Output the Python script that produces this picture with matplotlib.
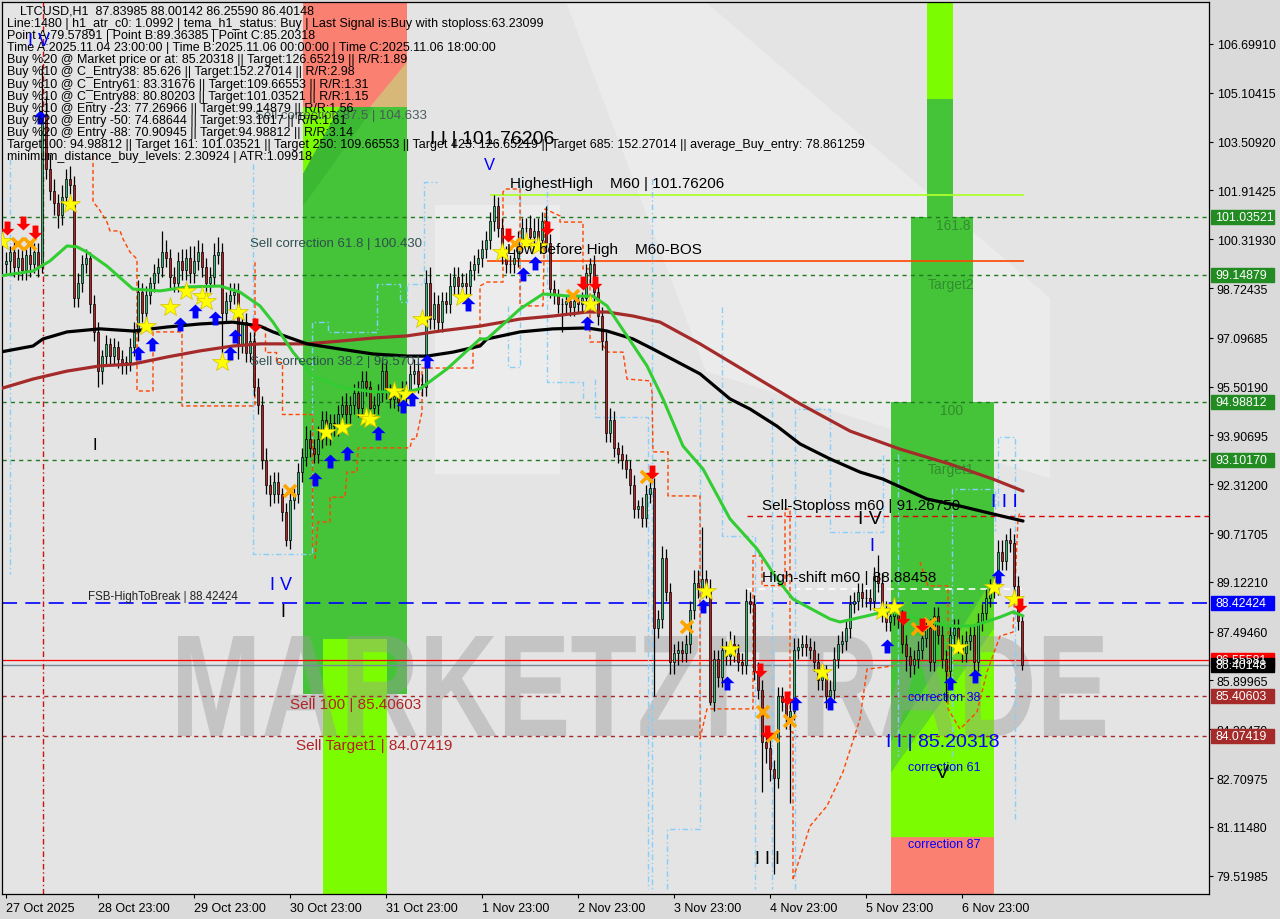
import numpy as np
import matplotlib
matplotlib.use('Agg')
import matplotlib.pyplot as plt
from matplotlib.patches import Rectangle, Polygon, PathPatch
from matplotlib.textpath import TextPath
from matplotlib.font_manager import FontProperties
from matplotlib.transforms import Affine2D
import matplotlib.transforms as mtransforms

plt.rcParams['font.family'] = ['Liberation Sans', 'DejaVu Sans']

W, H = 1280, 920

# ---------------- data ----------------
first_open = 99.5
closes = [
    99.6, 99.9, 99.4, 99.7, 99.3, 99.8, 99.5, 99.9, 99.4, 104.4,
    102.6, 101.9, 101.5, 101.1, 101.7, 102.3, 102.1, 98.4, 98.9, 99.5,
    99.7, 98.2, 97.3, 96.0, 96.5, 96.9, 96.5, 96.8, 96.4, 96.2,
    96.3, 96.8, 97.3, 98.6, 97.9, 98.5, 98.9, 99.2, 99.4, 99.9,
    99.7, 99.1, 98.9, 99.6, 99.3, 99.7, 99.2, 99.6, 99.9, 99.4,
    98.9, 99.1, 99.8, 99.9, 97.9, 98.3, 98.5, 98.6, 96.9, 97.6,
    96.6, 97.0, 95.5, 94.9, 93.1, 92.3, 92.0, 92.4, 92.0, 91.4,
    90.5, 91.8, 92.0, 92.7, 93.2, 93.8, 93.5, 93.3, 93.8, 94.4,
    93.9, 94.3, 94.2, 94.6, 94.9, 94.6, 94.9, 95.3, 94.8, 95.7,
    95.5, 94.8, 94.9, 95.3, 96.0, 95.4, 95.1, 95.2, 95.0, 95.4,
    95.3, 95.9, 96.0, 95.6, 95.5, 98.9, 97.7, 98.2, 97.6, 98.3,
    98.2, 98.8, 99.1, 98.8, 98.9, 98.8, 99.3, 99.5, 99.7, 100.0,
    100.3, 100.9, 101.4, 100.7, 99.8, 99.5, 99.5, 99.7, 100.3, 100.7,
    100.7, 100.4, 100.6, 100.3, 100.9, 100.2, 98.7, 98.5, 98.2, 98.2,
    98.3, 98.1, 98.3, 98.2, 98.4, 99.2, 99.5, 98.6, 97.8, 97.0,
    94.0, 94.4, 93.5, 93.3, 93.1, 92.8, 92.3, 91.5, 91.6, 91.2,
    92.0, 92.2, 87.6, 87.9, 89.9, 88.8, 86.5, 86.8, 86.9, 86.8,
    87.1, 88.2, 89.1, 88.9, 89.2, 88.9, 85.2, 86.6, 86.0, 86.9,
    86.7, 87.1, 86.8, 86.5, 86.4, 88.5, 88.4, 86.2, 85.6, 83.9,
    83.7, 83.0, 82.7, 85.4, 85.2, 84.7, 84.9, 86.9, 87.0, 87.1,
    87.0, 86.9, 86.5, 85.9, 86.1, 85.4, 85.6, 86.6, 87.1, 87.2,
    87.6, 88.4, 88.5, 88.8, 88.6, 88.6, 88.5, 89.3, 89.1, 88.1,
    87.8, 88.0, 88.1, 87.9, 87.1, 86.7, 86.4, 86.6, 86.9, 87.3,
    87.6, 86.5, 88.0, 87.4, 86.6, 86.2, 87.4, 87.6, 87.1, 86.8,
    87.2, 87.4, 86.5, 87.8, 88.1, 88.6, 88.9, 89.0, 90.1, 89.8,
    90.5, 90.4, 89.0, 87.84, 86.40148,
]
wick_up = [
    0.3, 0.2, 0.4, 0.3, 0.3, 0.2, 0.4, 0.3, 0.3, 1.6,
    0.6, 0.5, 0.4, 0.3, 0.4, 0.3, 0.4, 0.3, 0.3, 0.3,
    0.3, 0.2, 0.3, 0.3, 0.2, 0.3, 0.2, 0.3, 0.2, 0.3,
    0.2, 0.3, 0.3, 0.4, 0.3, 0.3, 0.2, 0.3, 0.3, 0.7,
    0.4, 0.3, 0.3, 0.3, 0.4, 0.3, 0.4, 0.5, 0.4, 0.3,
    0.3, 0.3, 0.4, 0.5, 0.3, 0.3, 0.4, 0.3, 0.3, 0.3,
    0.3, 0.3, 0.3, 0.3, 0.3, 0.4, 0.3, 0.3, 0.3, 0.2,
    0.3, 0.3, 0.2, 0.3, 0.3, 0.4, 0.3, 0.3, 0.4, 0.3,
    0.3, 0.3, 0.3, 0.3, 0.3, 0.4, 0.3, 0.3, 0.4, 0.3,
    0.3, 0.2, 0.3, 0.3, 0.4, 0.3, 0.2, 0.3, 0.2, 0.3,
    0.3, 0.3, 0.4, 0.3, 0.3, 0.4, 0.5, 0.4, 0.3, 0.3,
    0.3, 0.4, 0.3, 0.3, 0.3, 0.3, 0.3, 0.3, 0.3, 0.3,
    0.3, 0.3, 0.36, 0.3, 0.3, 0.3, 0.3, 0.3, 0.3, 0.3,
    0.3, 0.4, 0.4, 0.4, 0.3, 0.5, 0.3, 0.3, 0.2, 0.2,
    0.2, 0.2, 0.2, 0.2, 0.2, 0.3, 0.2, 0.3, 0.2, 0.3,
    0.3, 0.4, 0.3, 0.2, 0.3, 0.2, 0.3, 0.3, 0.2, 0.3,
    0.3, 0.4, 0.3, 0.3, 0.4, 0.3, 0.3, 0.3, 0.3, 0.3,
    0.3, 0.3, 0.4, 0.4, 1.7, 0.3, 0.3, 0.3, 0.3, 0.4,
    0.3, 0.4, 0.3, 0.3, 0.3, 0.4, 0.3, 0.3, 0.3, 0.3,
    0.3, 0.3, 0.3, 0.3, 0.3, 0.3, 0.4, 0.4, 0.3, 0.3,
    0.3, 0.3, 0.3, 0.3, 0.3, 0.3, 0.3, 0.4, 0.3, 0.3,
    0.3, 0.3, 0.3, 0.3, 0.3, 0.3, 0.3, 0.3, 0.7, 0.3,
    0.4, 0.3, 0.3, 0.3, 0.3, 0.3, 0.3, 0.3, 0.3, 0.3,
    0.3, 0.3, 0.3, 0.3, 0.3, 0.3, 0.3, 0.3, 0.3, 0.3,
    0.3, 0.3, 0.3, 0.3, 0.3, 0.3, 0.3, 0.3, 0.4, 0.4,
    0.2, 0.38, 0.3, 0.3, 0.16,
]
wick_dn = [
    0.3, 0.4, 0.3, 0.4, 0.3, 0.3, 0.4, 0.3, 0.3, 0.2,
    0.3, 0.3, 0.4, 0.4, 0.3, 0.3, 0.3, 0.3, 0.3, 0.3,
    0.3, 0.3, 0.3, 0.5, 0.4, 0.3, 0.3, 0.3, 0.3, 0.3,
    0.3, 0.3, 0.3, 0.3, 0.3, 0.3, 0.3, 0.3, 0.3, 0.3,
    0.3, 0.4, 0.3, 0.3, 0.3, 0.3, 0.3, 0.3, 0.3, 0.3,
    0.3, 0.3, 0.3, 0.3, 1.3, 0.3, 0.3, 0.3, 0.5, 0.3,
    0.3, 0.3, 0.3, 0.3, 0.3, 0.3, 0.4, 0.3, 0.3, 0.3,
    0.2, 0.3, 0.3, 0.3, 0.3, 0.3, 0.3, 0.3, 0.3, 0.3,
    0.3, 0.3, 0.3, 0.3, 0.3, 0.3, 0.3, 0.3, 0.3, 0.3,
    0.3, 0.3, 0.3, 0.3, 0.3, 0.3, 0.3, 0.3, 0.3, 0.3,
    0.3, 0.3, 0.3, 0.3, 0.3, 0.3, 0.3, 0.3, 0.3, 0.3,
    0.3, 0.3, 0.3, 0.3, 0.3, 0.3, 0.3, 0.3, 0.3, 0.3,
    0.3, 0.3, 0.3, 0.3, 0.3, 0.3, 0.3, 0.3, 0.3, 0.3,
    0.3, 0.3, 0.3, 0.3, 0.3, 0.3, 0.3, 0.3, 0.3, 0.9,
    0.3, 0.3, 0.3, 0.3, 0.3, 0.3, 0.3, 0.3, 0.3, 0.3,
    0.3, 0.3, 0.3, 0.3, 0.3, 0.3, 0.3, 0.3, 0.3, 0.3,
    0.3, 0.3, 2.2, 0.3, 0.3, 0.3, 0.4, 0.4, 0.4, 0.3,
    0.3, 0.3, 0.3, 0.3, 0.3, 0.3, 0.1, 0.3, 0.3, 0.3,
    0.3, 0.3, 0.3, 0.3, 0.3, 0.3, 0.3, 0.3, 0.3, 1.65,
    0.5, 0.4, 3.12, 0.3, 0.3, 0.4, 2.8, 0.3, 0.3, 0.3,
    0.3, 0.3, 0.3, 0.3, 0.3, 0.4, 0.3, 0.3, 0.3, 0.3,
    0.3, 0.3, 0.3, 0.3, 0.3, 0.3, 0.3, 0.3, 0.3, 0.3,
    0.3, 0.3, 0.3, 0.3, 0.3, 0.5, 0.4, 0.3, 0.3, 0.3,
    0.3, 0.3, 0.3, 0.3, 0.3, 1.0, 0.3, 0.3, 0.3, 0.3,
    0.3, 0.3, 0.3, 0.3, 0.3, 0.3, 0.3, 0.3, 0.3, 0.3,
    0.3, 0.3, 0.3, 0.3, 0.15,
]

# moving averages (bar, price knots)
ma_green_x = [-1.5, 6.75, 11, 15.25, 17.75, 20.25, 25.25, 31.75, 38.5, 45.25, 53.5, 58.5, 63.5, 66.75, 71.75,
              76.75, 83.5, 91.75, 100.25, 103.5, 110.25, 118.5, 120.25, 128.5, 134.25, 141, 146.75, 150.25,
              155.25, 160.25, 164.25, 169.25, 174.25, 181, 187.75, 192.75, 196.75, 206, 208.5, 215.25, 220.25,
              228.5, 235.25, 241.75, 248.5, 251.75, 254.25]
ma_green_y = [99.12, 99.28, 99.61, 100.10, 100.07, 99.90, 99.44, 98.69, 98.63, 98.76, 98.79, 98.59, 98.14, 97.61,
              96.63, 95.85, 95.49, 95.33, 95.33, 95.43, 96.08, 97.06, 97.06, 98.04, 98.53, 98.46, 98.46, 98.14,
              97.16, 96.18, 95.10, 93.56, 92.81, 91.18, 90.20, 89.22, 88.56, 87.91, 87.81, 88.01, 88.17, 87.91,
              87.68, 87.68, 87.97, 88.14, 88.01]
ma_black_x = [-1.5, 6.75, 9.25, 15.25, 23.5, 31.75, 40.25, 48.5, 56.75, 63.5, 66.75, 75.25, 83.5, 91.75, 100.25,
              105.25, 111.75, 118.5, 120.25, 128.5, 136.75, 145.25, 150.25, 156.75, 161.75, 173.5, 181, 186,
              192.75, 198.5, 206, 213.5, 219.25, 230.25, 238.5, 246.75, 254.25]
ma_black_y = [96.63, 96.83, 97.06, 97.29, 97.39, 97.32, 97.45, 97.55, 97.61, 97.48, 97.29, 96.90, 96.73, 96.57,
              96.50, 96.50, 96.63, 96.83, 97.06, 97.29, 97.39, 97.42, 97.32, 97.06, 96.73, 95.92, 95.10, 94.77,
              94.21, 93.63, 93.14, 92.71, 92.48, 91.83, 91.60, 91.34, 91.11]
ma_brown_x = [-1.5, 6.75, 15.25, 23.5, 31.75, 40.25, 48.5, 56.75, 63.5, 75.25, 83.5, 91.75, 100.25, 108.5, 118.5,
              128.5, 136.75, 145.25, 150.25, 156.75, 163.5, 173.5, 186, 198.5, 211, 223.5, 236, 246.75, 254.25]
ma_brown_y = [95.43, 95.75, 96.01, 96.18, 96.24, 96.47, 96.67, 96.83, 96.90, 96.90, 96.99, 97.09, 97.16, 97.32,
              97.48, 97.71, 97.81, 97.94, 97.94, 97.81, 97.61, 96.90, 95.92, 94.94, 94.05, 93.46, 92.97, 92.48,
              92.09]

# signals
star_x = [-1, 16, 35, 41, 45, 49, 50, 54, 58, 80, 84, 90, 91, 97, 100, 104, 114, 124, 130, 133, 146, 175, 181,
          204, 219, 222, 238, 247, 252]
star_y = [100.26, 101.47, 97.48, 98.11, 98.63, 98.46, 98.30, 96.31, 97.94, 94.02, 94.18, 94.51, 94.44, 95.36,
          95.26, 97.71, 98.43, 99.90, 100.23, 100.10, 98.20, 88.82, 86.93, 86.18, 88.17, 88.30, 86.99, 88.95,
          88.56]
buy_x = [8.5, 33, 36.5, 43.5, 47.25, 52.25, 56, 57.25, 77.25, 81, 85.25, 93, 99.25, 101.5, 105.25, 115.5, 129.25,
         132.25, 145.25, 174.25, 180.25, 197.25, 206, 220.25, 236, 242.25, 248]
buy_y = [104.3, 96.6, 96.9, 97.55, 97.97, 97.75, 96.6, 97.16, 92.48, 93.07, 93.33, 93.99, 94.87, 95.1, 96.34,
         98.2, 99.18, 99.54, 97.58, 88.33, 85.82, 85.16, 85.16, 87.02, 85.82, 86.04, 89.31]
sell_x = [0.25, 4.25, 7.25, 62.25, 125.5, 135.25, 144.25, 147.25, 161.5, 188.5, 190.25, 195.25, 224.25, 229,
          253.5]
sell_y = [100.68, 100.84, 100.55, 97.51, 100.45, 100.68, 98.88, 98.88, 92.71, 86.24, 84.21, 85.32, 87.94, 87.71,
          88.36]
cross_x = [3, 6, 71, 127.25, 141.75, 160.25, 170.25, 189.25, 191.75, 196, 228, 231]
cross_y = [100.16, 100.16, 92.09, 100.16, 98.46, 92.55, 87.65, 84.87, 84.08, 84.58, 87.58, 87.75]

# key levels
green_levels = [101.03521, 99.14879, 94.98812, 93.10170]
fsb_level = 88.42424
sell100_level = 85.40603
target1_level = 84.07419
ask_level = 86.55581
last_price = 86.40148
stoploss_level = 91.26750
highshift_level = 88.88458
highest_high = 101.76206
low_before_high = 99.60

# channel step lines (bar, price)
blue_steps = [
    [(1, 102.94), (1, 89.38)],
    [(61.75, 102.78), (61.75, 90.03), (76.5, 90.03), (76.5, 97.61), (80.5, 97.61), (80.5, 97.29), (92.75, 97.29),
     (92.75, 98.86), (98.5, 98.86), (98.5, 98.27), (100.25, 98.27), (100.25, 98.86), (104.5, 98.86),
     (104.5, 102.19), (107.75, 102.19)],
    [(125.5, 98.14), (125.5, 96.14), (128.5, 96.14), (128.5, 102.29)],
    [(135.25, 102.29), (135.25, 95.65), (144.25, 95.65), (144.25, 95.10)],
    [(147.25, 95.75), (147.25, 94.51), (160.5, 94.51), (160.5, 79.09)],
    [(161.5, 102.29), (161.5, 79.09)],
    [(165.25, 79.09), (165.25, 81.05), (173.5, 81.05), (173.5, 95.10)],
    [(179, 98.11), (179, 90.62), (187.25, 90.62), (187.25, 79.09)],
    [(191.5, 95.10), (191.5, 79.09)],
    [(197.25, 79.09), (197.25, 94.77), (206, 94.77), (206, 90.75), (219.25, 90.75), (219.25, 93.30)],
    [(223, 93.30), (223, 83.43)],
    [(236.5, 83.0), (236.5, 92.16), (247.25, 92.16), (247.25, 90.80)],
    [(248, 91.60), (248, 93.86), (252.25, 93.86), (252.25, 81.27)],
]
orange_steps = [
    [(21.75, 103.04), (21.75, 101.54), (23.25, 101.31), (25.25, 100.88), (26, 100.59), (28.5, 100.59),
     (29.25, 100.33), (31, 99.90), (32.75, 99.67), (32.75, 95.36), (36.75, 95.36), (36.75, 97.29), (44, 97.29),
     (44, 94.87), (62.25, 94.87), (62.25, 99.58)],
    [(64.75, 97.48), (64.75, 96.63), (67.5, 96.63), (67.5, 96.31), (69, 96.31), (69, 94.61), (76.5, 94.61),
     (76.5, 90.29)],
    [(77.25, 89.87), (78, 91.08), (81, 91.08), (81, 91.89), (84.75, 91.89), (85.25, 92.71), (87.75, 92.71),
     (88, 93.50), (101, 93.50), (101.5, 93.79), (102.5, 93.79), (104, 94.67), (104, 96.11), (116.75, 96.11),
     (116.75, 96.83), (118.5, 96.90), (118.5, 98.79), (120.25, 98.92), (124.25, 98.92), (124.25, 101.86),
     (124.75, 101.96), (128.5, 101.96), (128.5, 98.14), (134.25, 98.14), (134.75, 101.31), (138.5, 101.08),
     (138.5, 100.88), (144.25, 100.88), (144.25, 99.35), (146, 99.35), (146, 96.96), (148.5, 96.96),
     (150.5, 96.63), (154.25, 96.63), (155.25, 95.75), (161, 95.69), (161.5, 95.33), (161.75, 93.37),
     (165.5, 93.37), (165.5, 91.93), (173.5, 91.93), (173.5, 83.99), (175.25, 84.97), (186.75, 84.97),
     (186.75, 89.97), (189, 89.97), (189, 89.0), (194.75, 89.0), (194.75, 91.5), (196, 91.5), (196, 84.22),
     (196.75, 84.22), (196.75, 79.41)],
    [(196.75, 79.41), (201, 81.14), (205.25, 81.80), (209.25, 82.91), (213.5, 84.64), (215.25, 86.27),
     (221.75, 86.37)],
    [(228.5, 89.77), (230.5, 88.99), (235.5, 88.99), (235.5, 84.97), (238.5, 84.31), (242.75, 84.87),
     (245.25, 86.18), (248.5, 87.35), (251.75, 87.48), (253, 91.18), (253.5, 91.41)],
]

# tick labels
ytick_vals = [106.69910, 105.10415, 103.50920, 101.91425, 100.31930, 98.72435, 97.09685, 95.50190, 93.90695,
              92.31200, 90.71705, 89.12210, 87.49460, 85.89965, 84.30470, 82.70975, 81.11480, 79.51985]
xtick_pos = [0, 23, 47, 71, 95, 119, 143, 167, 191, 215, 239]
xtick_lab = ['27 Oct 2025', '28 Oct 23:00', '29 Oct 23:00', '30 Oct 23:00', '31 Oct 23:00', '1 Nov 23:00',
             '2 Nov 23:00', '3 Nov 23:00', '4 Nov 23:00', '5 Nov 23:00', '6 Nov 23:00']

right_labels = [(101.03521, '#228b22'), (99.14879, '#228b22'), (94.98812, '#228b22'), (93.10170, '#228b22'),
                (88.42424, '#0000ff'), (86.55581, '#ff0000'), (86.40148, '#000000'), (85.40603, '#a52a2a'),
                (84.07419, '#a52a2a')]

info_lines = [
    "LTCUSD,H1  87.83985 88.00142 86.25590 86.40148",
    "Line:1480 | h1_atr_c0: 1.0992 | tema_h1_status: Buy | Last Signal is:Buy with stoploss:63.23099",
    "Point A:79.57891 | Point B:89.36385 | Point C:85.20318",
    "Time A:2025.11.04 23:00:00 | Time B:2025.11.06 00:00:00 | Time C:2025.11.06 18:00:00",
    "Buy %20 @ Market price or at: 85.20318 || Target:126.65219 || R/R:1.89",
    "Buy %10 @ C_Entry38: 85.626 || Target:152.27014 || R/R:2.98",
    "Buy %10 @ C_Entry61: 83.31676 || Target:109.66553 || R/R:1.31",
    "Buy %10 @ C_Entry88: 80.80203 || Target:101.03521 || R/R:1.15",
    "Buy %10 @ Entry -23: 77.26966 || Target:99.14879 || R/R:1.56",
    "Buy %20 @ Entry -50: 74.68644 || Target:93.1017 || R/R:1.61",
    "Buy %20 @ Entry -88: 70.90945 || Target:94.98812 || R/R:3.14",
    "Target100: 94.98812 || Target 161: 101.03521 || Target 250: 109.66553 || Target 423: 126.65219 || "
    "Target 685: 152.27014 || average_Buy_entry: 78.861259",
    "minimum_distance_buy_levels: 2.30924 | ATR:1.09918",
]

# ---------------- figure ----------------
YMIN, YMAX = 78.9213, 108.0716
XMIN, XMAX = -1, 300.75

fig = plt.figure(figsize=(W / 100, H / 100), dpi=100, facecolor='#dadada')
ax = fig.add_axes([2 / W, 1 - 895 / H, 1207 / W, 892 / H])
ax.set_facecolor('#e4e4e4')
ax.set_xlim(XMIN, XMAX)
ax.set_ylim(YMIN, YMAX)
for s in ax.spines.values():
    s.set_color('black')
    s.set_linewidth(0.9)

# background lighter shapes
ax.add_patch(Rectangle((107.25, 92.65), 31.25, 8.8, color='#ececec', zorder=0.2, lw=0))
ax.add_patch(Polygon([(140, 108.07), (175, 108.07), (261, 98.4), (261, 92.5), (175, 96.0)],
                     closed=True, color='#ebebeb', zorder=0.2, lw=0))

# zones - left
ZG = '#45c43a'
LIME = '#7cfc00'
SAL = '#fa8072'
ax.add_patch(Rectangle((74.25, 104.64), 26, YMAX - 104.64, color=SAL, lw=0, zorder=0.5))
ax.add_patch(Polygon([(91, 104.64), (100.25, 106.11), (100.25, 104.64)], color='#d8b878', lw=0, zorder=0.55))
ax.add_patch(Rectangle((74.25, 85.46), 26, 104.64 - 85.46, color=ZG, lw=0, zorder=0.5))
ax.add_patch(Polygon([(74.25, 104.64), (83.5, 104.64), (74.25, 102.45)], color=LIME, lw=0, zorder=0.55))
ax.add_patch(Polygon([(74.25, 102.45), (83.5, 104.64), (92, 104.64), (74.25, 101.4)], color='#3cb832', lw=0,
                     zorder=0.55))
ax.add_patch(Rectangle((79.25, YMIN), 16, 87.25 - YMIN, color=LIME, lw=0, zorder=0.56))

# zones - right
ax.add_patch(Rectangle((230.25, 104.9), 6.5, YMAX - 104.9, color=LIME, lw=0, zorder=0.5))
ax.add_patch(Rectangle((230.25, 101.04), 6.5, 104.9 - 101.04, color=ZG, lw=0, zorder=0.5))
ax.add_patch(Rectangle((226.25, 94.99), 15.5, 101.04 - 94.99, color=ZG, lw=0, zorder=0.5))
ax.add_patch(Rectangle((221.25, 80.78), 25.75, 94.99 - 80.78, color=ZG, lw=0, zorder=0.5))
ax.add_patch(Polygon([(221.25, 83.9), (247, 89.3), (247, 87.6), (221.25, 82.9)], color='#5fd82a', lw=0,
                     zorder=0.55))
ax.add_patch(Polygon([(221.25, 80.78), (247, 80.78), (247, 87.6), (221.25, 82.9)], color=LIME, lw=0,
                     zorder=0.56))
ax.add_patch(Rectangle((221.25, YMIN), 25.75, 80.78 - YMIN, color=SAL, lw=0, zorder=0.5))

# watermark
fp = FontProperties(family='Liberation Sans', weight='bold')
tp = TextPath((0, 0), 'MARKETZITRADE', size=100, prop=fp)
bb = tp.get_extents()
wm_tr = Affine2D().translate(-bb.x0, -bb.y0).scale(927 / bb.width, 100 / bb.height).translate(178, H - 737)
ax.add_patch(PathPatch(tp, transform=wm_tr, color='#9a9a9a', alpha=0.42, lw=0, zorder=0.7))

# level lines
ax.hlines(green_levels, XMIN, XMAX, colors='#1f7a1f', linestyles=(0, (3, 3)), lw=1, zorder=1)
ax.axhline(fsb_level, color='#0000ff', ls=(0, (9, 5)), lw=1.2, zorder=1.1)
ax.axhline(sell100_level, color='#a52a2a', ls=(0, (3, 3)), lw=1, zorder=1)
ax.axhline(target1_level, color='#a52a2a', ls=(0, (3, 3)), lw=1, zorder=1)
ax.axhline(ask_level, color='#ff0000', lw=0.9, zorder=1)
ax.axhline(last_price, color='#778899', lw=1.0, zorder=1)
ax.hlines(stoploss_level, 185.25, XMAX, colors='#dd0000', linestyles=(0, (4, 3)), lw=1, zorder=1)
ax.hlines(highshift_level, 185.25, 254.5, colors='white', linestyles=(0, (4, 3)), lw=1.2, zorder=1)
ax.hlines(highest_high, 121, 254.5, colors='#adff2f', lw=1.3, zorder=1)
ax.hlines(low_before_high, 120.25, 254.5, colors='#ff4500', lw=1.2, zorder=1)
ax.axvline(9.25, color='#cc1111', ls=(0, (4, 2, 1, 2)), lw=1, zorder=1)

for seg in blue_steps:
    xs, ys = zip(*seg)
    ax.plot(xs, ys, color='#87cefa', lw=1, ls=(0, (4, 2, 1, 2)), zorder=1.5)
for seg in orange_steps:
    xs, ys = zip(*seg)
    ax.plot(xs, ys, color='#ff4500', lw=1, ls=(0, (3, 2)), zorder=1.5)

# candles
c = np.array(closes)
n = len(c)
idx = np.arange(n)
o = np.concatenate([[first_open], c[:-1]])
hi = np.maximum(o, c) + np.array(wick_up)
lo = np.minimum(o, c) - np.array(wick_dn)
up = c >= o
ax.vlines(idx, lo, hi, color='black', lw=0.9, zorder=3)
ax.bar(idx[up], (c - o)[up], bottom=o[up], width=0.72, color='#3cb371', edgecolor='black', lw=0.5, zorder=3.1)
ax.bar(idx[~up], (o - c)[~up], bottom=c[~up], width=0.72, color='#b22222', edgecolor='black', lw=0.5,
       zorder=3.1)

# moving averages
ax.plot(ma_brown_x, ma_brown_y, color='#a52a2a', lw=2.3, zorder=3.5, solid_capstyle='round')
ax.plot(ma_black_x, ma_black_y, color='black', lw=2.3, zorder=3.6, solid_capstyle='round')
ax.plot(ma_green_x, ma_green_y, color='#32cd32', lw=2.2, zorder=3.7, solid_capstyle='round')

# signals
up_arrow = [(-0.42, -1), (0.42, -1), (0.42, 0.05), (1, 0.05), (0, 1), (-1, 0.05), (-0.42, 0.05), (-0.42, -1)]
dn_arrow = [(x, -y) for x, y in up_arrow]
ax.plot(star_x, star_y, ls='none', marker='*', ms=15, color='#ffff00', mec='#d4c000', mew=0.5, zorder=4)
ax.plot(cross_x, cross_y, ls='none', marker='x', ms=8, mew=2.6, color='#ffa500', zorder=4.1)
ax.plot(buy_x, buy_y, ls='none', marker=up_arrow, ms=10, color='#0000ff', mew=0, zorder=4.2)
ax.plot(sell_x, sell_y, ls='none', marker=dn_arrow, ms=10, color='#ff0000', mew=0, zorder=4.2)

# axes ticks
ax.yaxis.tick_right()
ax.set_yticks(ytick_vals)
ax.set_yticklabels([f'{v:.5f}' for v in ytick_vals])
ax.tick_params(axis='y', direction='out', length=3, width=0.8, pad=2.5, labelsize=8.9, left=False)
ax.set_xticks(xtick_pos)
ax.set_xticklabels(xtick_lab)
for lab in ax.get_xticklabels():
    lab.set_horizontalalignment('left')
ax.tick_params(axis='x', direction='out', length=3, width=0.8, pad=2.5, labelsize=9)

# right price boxes
trans = mtransforms.blended_transform_factory(ax.transAxes, ax.transData)
bx0 = (1211 - 2) / 1207
bw = 63 / 1207
hh = 7 / 30.6
for v, bg in right_labels:
    ax.add_patch(Rectangle((bx0, v - hh), bw, 2 * hh, transform=trans, color=bg, clip_on=False, zorder=10))
    ax.text(bx0 + 4 / 1207, v, f'{v:.5f}', transform=trans, color='white', va='center', ha='left',
            fontsize=8.9, clip_on=False, zorder=11)


def ptext(x, y, s, **kw):
    kw.setdefault('va', 'center')
    kw.setdefault('ha', 'left')
    fig.text(x / W, 1 - y / H, s, **kw)


# annotation texts
ptext(255, 116, 'Sell correction 87.5 | 104.633', fontsize=9.5, color='#4a5a5a')
for k, line in enumerate(info_lines):
    ptext(20 if k == 0 else 7, 12 + 12.1 * k, line, fontsize=9.0, color='black')
ptext(430, 139, 'I I | 101.76206', fontsize=14, color='black')
ptext(484, 166, 'V', fontsize=12, color='#0000ff')
ptext(510, 184, 'HighestHigh    M60 | 101.76206', fontsize=11, color='black')
ptext(507, 250, 'Low before High    M60-BOS', fontsize=11, color='black')
ptext(250, 244, 'Sell correction 61.8 | 100.430', fontsize=9.5, color='#2f4f4f')
ptext(250, 362, 'Sell correction 38.2 | 96.5701', fontsize=9.5, color='#2f4f4f')
ptext(93, 446, 'I', fontsize=12, color='black')
ptext(762, 506, 'Sell-Stoploss m60 | 91.26750', fontsize=11, color='black')
ptext(858, 519, 'I V', fontsize=14, color='black')
ptext(991, 503, 'I I I', fontsize=14, color='#0000ff')
ptext(869, 547, 'I', fontsize=13, color='#0000ff')
ptext(762, 578, 'High-shift m60 | 88.88458', fontsize=11, color='black')
ptext(270, 585, 'I V', fontsize=13, color='#0000ff')
ptext(280, 613, 'I', fontsize=13, color='black')
ptext(88, 597, 'FSB-HighToBreak | 88.42424', fontsize=8.3, color='#222222')
ptext(290, 705, 'Sell 100 | 85.40603', fontsize=11, color='#b22222')
ptext(296, 746, 'Sell Target1 | 84.07419', fontsize=11, color='#b22222')
ptext(908, 698, 'correction 38', fontsize=9, color='#0000ff')
ptext(886, 743, 'I I | 85.20318', fontsize=14, color='#0000ff')
ptext(908, 768, 'correction 61', fontsize=9, color='#0000ff')
ptext(936, 774, 'V', fontsize=14, color='black')
ptext(908, 845, 'correction 87', fontsize=9, color='#0000ff')
ptext(755, 860, 'I I I', fontsize=13, color='black')
ptext(28, 42, 'I V', fontsize=13, color='#0000ff')
for tx, ty, s in [(936, 226, '161.8'), (928, 285, 'Target2'), (940, 411, '100'), (928, 470, 'Target1')]:
    ptext(tx, ty, s, fontsize=10, color='#2a7a2a', alpha=0.75)

fig.savefig('out.png', dpi=100, facecolor=fig.get_facecolor())
